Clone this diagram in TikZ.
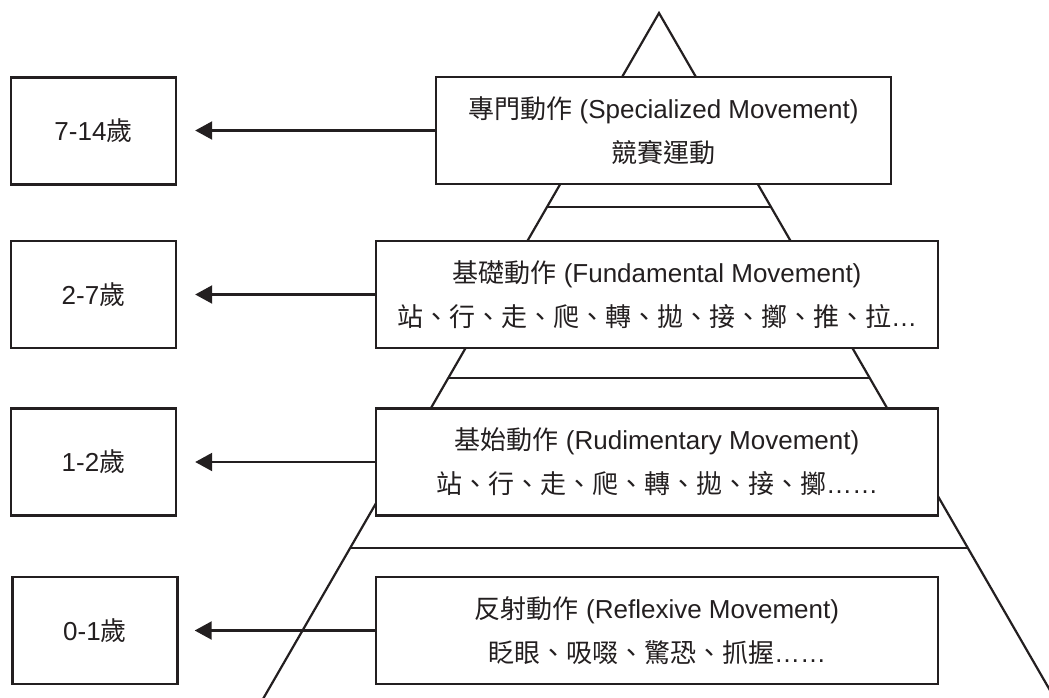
\documentclass[tikz,border=0pt]{standalone}
\usepackage{fontspec}
\setmainfont{Liberation Sans}
\newfontfamily\cjk{Noto Sans CJK TC}
\usetikzlibrary{arrows.meta}
\definecolor{ink}{HTML}{231F20}
\begin{document}
\begin{tikzpicture}[x=1pt,y=-1pt,
  box/.style={draw=ink, fill=white, line width=2.4pt, minimum height=107pt,
    inner sep=0pt, align=center, font=\fontsize{26}{44}\selectfont, text=ink},
  agebox/.style={box, minimum width=165pt},
  stagebox/.style={box, minimum width=562pt},
  pyr/.style={draw=ink, line width=2.2pt},
  agearrow/.style={draw=ink, line width=2.2pt, -{Triangle[length=17pt,width=18pt]}}
]
\useasboundingbox (0,0) rectangle (1049,697);
% pyramid
\begin{scope}
  \clip (0,0) rectangle (1049,697);
  \coordinate (apex) at (659,13);
  \coordinate (pl) at (254.9,713);
  \coordinate (pr) at (1063.1,713);
  \draw[pyr, line join=miter] (pl) -- (apex) -- (pr);
\end{scope}
\draw[pyr] (547,207) -- (771,207);
\draw[pyr] (448,378) -- (870,378);
\draw[pyr] (350,548) -- (968,548);
% stage boxes
\node[box, minimum width=455pt] (s1) at (663.5,130.5)
  {{\cjk 專門動作} (Specialized Movement)\\{\cjk 競賽運動}};
\node[stagebox] (s2) at (657,294.5)
  {{\cjk 基礎動作} (Fundamental Movement)\\{\cjk 站、行、走、爬、轉、拋、接、擲、推、拉}…};
\node[stagebox] (s3) at (657,462)
  {{\cjk 基始動作} (Rudimentary Movement)\\{\cjk 站、行、走、爬、轉、拋、接、擲}……};
\node[stagebox] (s4) at (657,630.5)
  {{\cjk 反射動作} (Reflexive Movement)\\{\cjk 眨眼、吸啜、驚恐、抓握}……};
% age boxes
\node[agebox] (a1) at (93.5,131) {7-14{\cjk 歲}};
\node[agebox] (a2) at (93.5,294.5) {2-7{\cjk 歲}};
\node[agebox] (a3) at (93.5,462) {1-2{\cjk 歲}};
\node[agebox] (a4) at (95,630.5) {0-1{\cjk 歲}};
% arrows
\draw[agearrow] (s1.west) -- ([xshift=18pt]a1.east |- s1.west);
\draw[agearrow] (s2.west) -- ([xshift=18pt]a2.east |- s2.west);
\draw[agearrow] (s3.west) -- ([xshift=18pt]a3.east |- s3.west);
\draw[agearrow] (s4.west) -- ([xshift=16pt]a4.east |- s4.west);
\end{tikzpicture}
\end{document}
